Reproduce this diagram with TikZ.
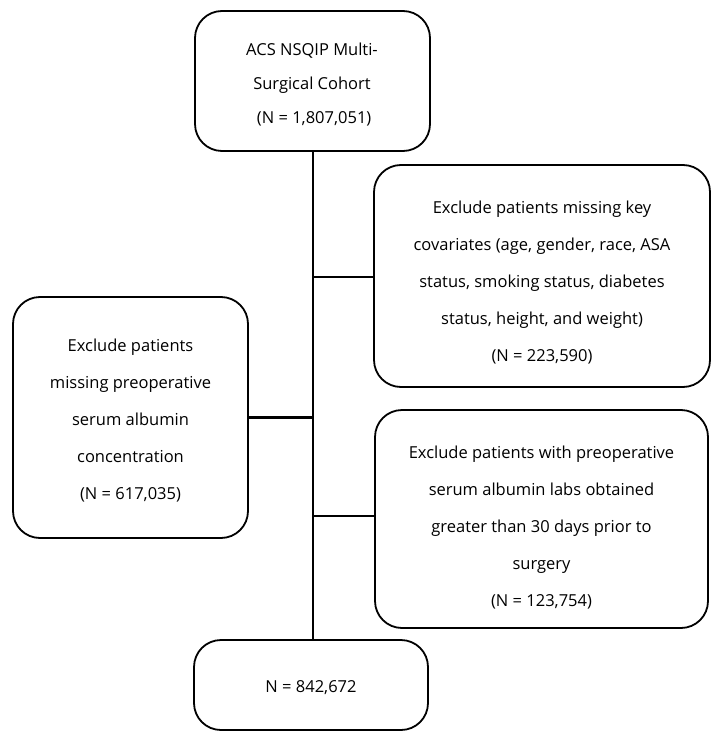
\documentclass[tikz,border=0pt]{standalone}
\usepackage{fontspec}
\setmainfont{Open Sans}
\begin{document}
\begin{tikzpicture}[x=1pt,y=-1pt,
  box/.style={draw=black, line width=1.8pt, rounded corners=27pt, inner sep=0pt},
  txt/.style={align=center, inner sep=0pt, font=\fontsize{16.5}{37}\selectfont},
  conn/.style={draw=black, line width=2.6pt}]
\useasboundingbox (0,0) rectangle (721,743);
\node[box, minimum width=235pt, minimum height=140pt] (top) at (312.5,81) {};
\node[txt] (topt) at (312,85)
  {ACS NSQIP Multi-\\[-3pt]Surgical Cohort\\[-3pt]\ (N = 1,807,051)};
\node[box, minimum width=336pt, minimum height=222pt] (r1) at (542,276) {};
\node[txt] (r1t) at (542,283)
  {Exclude patients missing key\\covariates (age, gender, race, ASA\\status, smoking status, diabetes\\status, height, and weight)\\(N = 223,590)};
\node[box, minimum width=235pt, minimum height=241pt] (l1) at (130.5,417.5) {};
\node[txt] (l1t) at (130.5,421)
  {Exclude patients\\missing preoperative\\serum albumin\\concentration\\(N = 617,035)};
\node[box, minimum width=333pt, minimum height=218pt] (r2) at (541.5,519) {};
\node[txt] (r2t) at (541.5,528)
  {Exclude patients with preoperative\\serum albumin labs obtained\\greater than 30 days prior to\\surgery\\(N = 123,754)};
\node[box, minimum width=234pt, minimum height=90pt] (bot) at (311,685) {};
\node[txt] (bott) at (311,688) {N = 842,672};
\coordinate (j1) at (313,277);
\coordinate (j2) at (313,417.5);
\coordinate (j3) at (313,516);
\draw[conn] (top.south -| j1) -- (bot.north -| j1);
\draw[conn] (j1) -- (r1.west |- j1);
\draw[conn] (l1.east) -- (j2);
\draw[conn] (j3) -- (r2.west |- j3);
\end{tikzpicture}
\end{document}
